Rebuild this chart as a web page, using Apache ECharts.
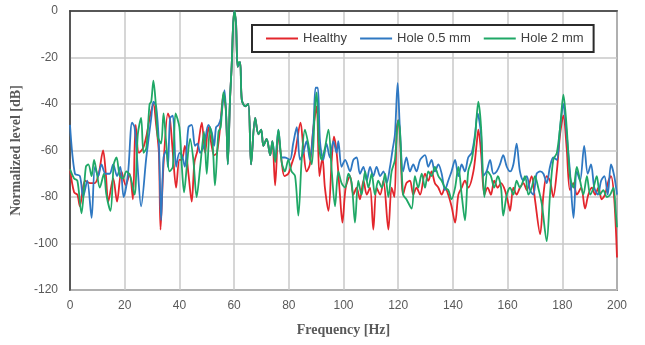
<!DOCTYPE html>
<html><head><meta charset="utf-8">
<script src="https://cdn.jsdelivr.net/npm/echarts@6/dist/echarts.min.js"></script>
<style>html,body{margin:0;padding:0;background:#fff}#c{width:645px;height:345px}</style>
</head><body><div id="c"></div>
<script>
const seriesNames = ['Healthy', 'Hole 0.5 mm', 'Hole 2 mm'];
const xTicks = [0, 20, 40, 60, 80, 100, 120, 140, 160, 180, 200];
const yTicks = [-120, -100, -80, -60, -40, -20, 0];

const healthyFreq = [0,1.5,2.7,3.6,5.5,7.3,9.1,10.5,12.1,13.1,14,15.8,17.2,18.8,20.4,21.8,23,24,25.2,26.7,27.9,29.3,30.5,31.5,32.5,33.1,34.2,35.8,36.6,37.6,38.8,40,40.9,42,43.3,44.5,45.5,46.6,48.2,49.4,50.6,51.8,52.7,53.7,54.9,56.1,57,57.7,58.5,59.1,60,60.7,61.3,62.2,62.8,64,65.2,66.2,67.7,68.9,69.9,70.7,71.9,73.2,74,75,76.2,77.4,78.4,79.8,81,82.3,84.3,85.3,86.5,87.7,89,90.2,91.2,92.3,93.2,94.5,95.7,96.5,97.5,98.7,99.6,100.8,102.4,103.6,104.8,106,107.3,108.5,109.7,110.9,112.1,113.4,114.6,116.4,117.6,118.6,119.5,120.1,120.6,121.8,123,124.3,125.5,126.7,128,129.8,131,132.2,133.4,134.7,135.9,137.1,138.3,139.5,140.8,142,143.2,144.4,145.6,147.5,148.7,149.3,150.3,151.5,152.7,153.9,155.1,156.4,157.6,159,160.3,160.9,162.1,163.3,164.5,165.8,167,168.8,170,171.9,173.1,174.3,175.5,176.7,178,179.2,180.4,181.6,182.8,184.1,185.3,186.9,188.3,189.5,190.8,192,193.2,194.4,195.6,196.9,197.8,199,200];
const healthyLevel = [-68,-78,-79,-84,-73,-74,-74,-70,-60,-70,-82,-72,-82,-69,-75,-70,-81,-49,-61,-59,-54,-45,-40,-49,-61,-94,-66,-44,-47,-61,-76,-64,-64,-58,-70,-82,-65,-60,-48,-61,-50,-58,-62,-61,-50,-36,-43,-65,-38,-24,0,-5,-24,-22,-38,-41,-40,-66,-46,-53,-51,-58,-55,-62,-56,-75,-53,-65,-71,-70,-66,-61,-48,-59,-69,-66,-50,-41,-71,-63,-76,-86,-64,-54,-61,-79,-91,-76,-71,-79,-76,-81,-73,-79,-76,-94,-76,-79,-73,-94,-76,-80,-50,-47,-53,-79,-74,-73,-79,-76,-79,-70,-73,-69,-74,-76,-79,-76,-79,-84,-91,-79,-76,-73,-76,-69,-57,-51,-61,-79,-76,-79,-73,-76,-74,-77,-83,-86,-76,-79,-76,-74,-77,-71,-81,-96,-79,-71,-73,-80,-69,-53,-45,-59,-77,-74,-79,-76,-85,-79,-76,-79,-76,-81,-79,-73,-71,-81,-106];

const hole05Freq = [0,1.8,3.6,4.8,6.3,7.9,9.1,10.3,11.5,13,14.5,15.8,17.2,18.4,19.6,21.2,22.7,23.6,24.5,26,27.9,29.7,30.5,31.5,32.5,33.3,34.2,35.2,35.8,36.6,37.6,38.8,40,40.9,42,43.3,44.5,45.7,46.6,47.6,49,50.6,51.8,52.7,53.4,54.3,55.2,56.5,57.3,57.7,58.5,59.1,60,60.7,61.3,62.2,62.8,64,65.2,66.2,67.7,68.9,69.9,70.7,71.9,73.2,74,75,76.2,77.4,78.6,80.4,81.6,82.9,84.1,85.3,86.5,87.7,89,89.8,90.6,91.4,92.6,93.8,95,96.3,97.5,98.1,99.3,100.6,102.4,103.6,104.8,106,107.3,108.5,109.7,110.9,112.1,113.4,114.6,115.8,117,117.9,118.8,119.8,120.6,121.8,123,124.3,125.5,126.7,128,129.8,131,132.2,133.4,134.7,135.9,137.1,138.3,139.5,140.8,142,143.2,144.4,145.6,146.9,148.1,149,150.3,151.1,152.3,153.6,154.8,156,157.2,158.4,159.7,160.9,162.1,163.3,164.5,165.8,167,168.2,169.4,170.6,171.9,173.1,174.3,175.5,176.7,178,179.2,180.4,181.6,182.8,184.1,185.3,186.5,188,189.3,190.5,191.7,193,194.2,195.4,196.6,197.8,199,200];
const hole05Level = [-49,-70,-71,-80,-73,-89,-67,-71,-66,-70,-70,-66,-71,-67,-80,-70,-48,-50,-63,-84,-63,-46,-39,-41,-57,-90,-63,-60,-67,-46,-45,-67,-61,-62,-67,-50,-49,-58,-57,-61,-58,-49,-52,-58,-50,-49,-46,-34,-52,-66,-38,-24,0,-5,-24,-22,-38,-41,-40,-66,-46,-53,-51,-58,-55,-62,-56,-64,-51,-63,-63,-64,-57,-50,-64,-61,-56,-64,-50,-33,-33,-56,-64,-57,-63,-56,-61,-56,-67,-64,-69,-64,-63,-70,-67,-73,-67,-71,-67,-71,-69,-74,-67,-60,-53,-31,-50,-69,-63,-69,-66,-69,-64,-62,-67,-64,-69,-66,-70,-77,-73,-69,-64,-71,-66,-69,-63,-61,-53,-44,-53,-71,-69,-64,-70,-69,-66,-62,-67,-69,-66,-57,-69,-73,-71,-77,-79,-70,-69,-70,-74,-67,-63,-64,-50,-40,-53,-69,-89,-69,-73,-58,-70,-66,-76,-79,-73,-71,-79,-66,-71,-79];

const hole2Freq = [0,1.5,2.7,4.2,5.8,6.7,7.9,8.8,9.7,10.9,12.4,13.3,14.8,16,17,18.2,19.4,20.6,22,23.6,24.8,26,26.9,27.9,29.1,29.7,30.5,31.3,32.1,33.3,34.2,35.2,36.4,37.6,38.6,40,40.9,41.7,42.7,43.9,45.1,46.3,47.6,49,50,51.2,52.2,53,54.3,55.1,56.1,57,57.7,58.5,59.1,59.7,60.2,60.7,61.3,61.7,62.2,62.8,64,65.2,66.2,67.7,68.9,69.9,70.7,71.9,73.2,74,75,76.2,77.4,78.6,79.8,81,82.3,83.5,84.7,85.9,87.1,88.4,89.6,90.2,91,92,93.2,94.5,95.7,96.9,98.1,99.3,100.6,101.8,103,104.2,105.4,106.6,107.9,109.1,110.3,111.5,112.7,114,115.2,116.4,117.6,118.8,120,120.6,121.8,123,124.9,126.1,127.3,128.6,129.8,131,132.2,133.4,134.7,135.9,137.1,138.3,139.5,140.8,142,143.2,144.4,145.6,146.9,148.1,149.3,150.3,151.5,152.7,153.9,155.1,156.4,157.6,158.4,159.7,160.9,162.1,163.3,164.5,166.4,167.6,168.8,170,171.2,172.5,174.3,175.5,176.7,178,179.2,180.4,181.6,182.8,184.1,185.3,186.5,187.7,189,190.2,191.4,192.6,193.8,195,196.3,197.5,198.7,199.5,200];
const hole2Level = [-68,-72,-73,-87,-67,-66,-71,-64,-69,-76,-70,-79,-86,-66,-63,-71,-72,-69,-71,-79,-53,-46,-61,-59,-40,-39,-30,-39,-54,-57,-44,-57,-69,-67,-44,-50,-67,-78,-67,-55,-64,-80,-67,-52,-70,-50,-58,-75,-52,-50,-35,-42,-66,-38,-24,-5,0,-6,-24,-22,-22,-38,-41,-40,-66,-46,-53,-51,-58,-55,-62,-56,-65,-51,-65,-69,-64,-69,-71,-88,-64,-51,-57,-66,-41,-35,-57,-64,-59,-51,-69,-84,-69,-74,-76,-70,-74,-91,-73,-79,-69,-76,-70,-79,-73,-76,-70,-80,-69,-64,-47,-51,-79,-81,-85,-71,-76,-70,-76,-69,-71,-67,-71,-73,-76,-77,-81,-76,-67,-79,-90,-69,-64,-54,-39,-50,-80,-69,-71,-76,-71,-76,-88,-79,-76,-79,-73,-76,-71,-79,-76,-71,-76,-83,-99,-79,-64,-61,-50,-36,-50,-71,-76,-67,-73,-79,-71,-79,-76,-71,-79,-77,-80,-79,-76,-86,-93];

const colors = ['#e3262c', '#2f78c2', '#1fa866'];
const freqs = [healthyFreq, hole05Freq, hole2Freq];
const levels = [healthyLevel, hole05Level, hole2Level];

const chart = echarts.init(document.getElementById('c'), null, {renderer: 'canvas'});
const series = seriesNames.map((n, i) => ({
  name: n, type: 'line', showSymbol: false, smooth: 0.3,
  data: freqs[i].map((f, k) => [f, levels[i][k]]),
  lineStyle: {color: colors[i], width: 1.8},
  itemStyle: {color: colors[i]},
  z: 2 + i
}));
const labelStyle = {color: '#595959', fontFamily: 'Liberation Sans, Arial, sans-serif', fontSize: 12};
chart.setOption({
  animation: false,
  backgroundColor: '#fff',
  grid: {left: 70, right: 28, top: 11, bottom: 55, show: true, borderColor: '#3a3a3a', borderWidth: 1.5, backgroundColor: 'transparent'},
  legend: {
    data: seriesNames, left: 252, top: 25, width: 345,
    backgroundColor: '#fff', borderColor: '#2b2b2b', borderWidth: 2,
    padding: [7, 10, 7, 14], itemGap: 13, itemWidth: 32, itemHeight: 2, icon: 'rect',
    textStyle: {color: '#404040', fontFamily: 'Liberation Sans, Arial, sans-serif', fontSize: 13}
  },
  xAxis: {
    type: 'value', min: xTicks[0], max: xTicks[xTicks.length - 1], interval: 20,
    name: 'Frequency [Hz]', nameLocation: 'middle', nameGap: 33,
    nameTextStyle: {color: '#595959', fontFamily: 'Liberation Serif, Times New Roman, serif', fontWeight: 'bold', fontSize: 14},
    axisLine: {show: true, lineStyle: {color: '#3a3a3a', width: 1.5}},
    axisTick: {show: false},
    axisLabel: Object.assign({margin: 10}, labelStyle),
    splitLine: {show: true, lineStyle: {color: '#c8c8c8', width: 1.5}}
  },
  yAxis: {
    type: 'value', min: yTicks[0], max: yTicks[yTicks.length - 1], interval: 20,
    name: 'Normalized level [dB]', nameLocation: 'middle', nameGap: 43,
    nameTextStyle: {color: '#595959', fontFamily: 'Liberation Serif, Times New Roman, serif', fontWeight: 'bold', fontSize: 14},
    axisLine: {show: true, lineStyle: {color: '#3a3a3a', width: 1.5}},
    axisTick: {show: false},
    axisLabel: Object.assign({margin: 12}, labelStyle),
    splitLine: {show: true, lineStyle: {color: '#c8c8c8', width: 1.5}}
  },
  series: series
});
</script></body></html>
